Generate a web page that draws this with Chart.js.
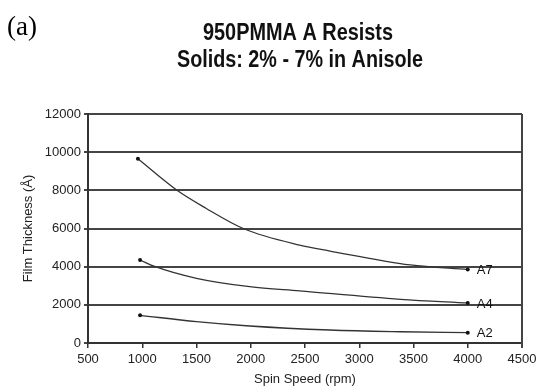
<!DOCTYPE html>
<html>
<head>
<meta charset="utf-8">
<script src="https://cdn.jsdelivr.net/npm/chart.js@4"></script>
<style>
	html, body { margin: 0; padding: 0; background: #fff; }
	#wrap { width: 536px; height: 387px; position: relative; }
</style>
</head>
<body>
<div id="wrap"><canvas id="chart" width="536" height="387"></canvas></div>
<script>
const speedA7 = [960, 1320, 1590, 1930, 2450, 2730, 3470, 4000];
const thickA7 = [9650, 8000, 7050, 6000, 5130, 4820, 4090, 3850];

const speedA4 = [980, 1120, 1500, 1990, 2450, 3380, 4000];
const thickA4 = [4350, 4000, 3390, 2950, 2730, 2290, 2100];

const speedA2 = [980, 1500, 1990, 2730, 3380, 4000];
const thickA2 = [1450, 1120, 890, 680, 590, 540];

const seriesNames = ["A7", "A4", "A2"];

const titleLines = ["950PMMA A Resists", "Solids: 2% - 7% in Anisole"];
const panelTag = "(a)";
const xTitle = "Spin Speed (rpm)";
const yTitle = "Film Thickness (\u00c5)";

// Turn two arrays into {x, y} points.
function toPoints(xs, ys) {
	return xs.map((x, i) => ({ x: x, y: ys[i] }));
}

// Dot only at the first and the last point of each curve.
function endDot(ctx) {
	const n = ctx.dataset.data.length;
	return (ctx.dataIndex === 0 || ctx.dataIndex === n - 1) ? 2 : 0;
}

function makeSet(name, xs, ys) {
	return {
		label: name,
		data: toPoints(xs, ys),
		showLine: true,
		borderColor: '#333',
		borderWidth: 1.3,
		backgroundColor: '#111',
		pointBackgroundColor: '#111',
		pointBorderWidth: 0,
		pointRadius: endDot,
		cubicInterpolationMode: 'monotone'
	};
}

// Title, panel tag, right frame line and the curve names.
const decor = {
	id: 'decor',
	afterDraw(chart) {
		const ctx = chart.ctx;
		const area = chart.chartArea;
		ctx.save();

		// Right frame line.
		ctx.strokeStyle = '#444';
		ctx.lineWidth = 2;
		ctx.beginPath();
		ctx.moveTo(area.right, area.top);
		ctx.lineTo(area.right, area.bottom + 5);
		ctx.stroke();

		// Panel tag.
		ctx.fillStyle = '#000';
		ctx.font = '27px "Liberation Serif", serif';
		ctx.textAlign = 'left';
		ctx.textBaseline = 'middle';
		ctx.fillText(panelTag, 7, 28);

		// Two line title, squeezed to look like a condensed face.
		ctx.fillStyle = '#111';
		ctx.font = 'bold 23px "Liberation Sans", Arial, sans-serif';
		ctx.textAlign = 'center';
		ctx.fillText(titleLines[0], 298, 34, 190);
		ctx.fillText(titleLines[1], 300, 61, 246);

		// Curve names next to the last points.
		ctx.font = '13px "Liberation Sans", Arial, sans-serif';
		ctx.textAlign = 'left';
		const xs = chart.scales.x;
		const ys = chart.scales.y;
		chart.data.datasets.forEach(function (set) {
			const last = set.data[set.data.length - 1];
			ctx.fillText(set.label, xs.getPixelForValue(last.x) + 9, ys.getPixelForValue(last.y) + 1);
		});
		ctx.restore();
	}
};

const tickFont = { family: '"Liberation Sans", Arial, sans-serif', size: 13 };
const plainNumber = value => String(value);

new Chart(document.querySelector('#chart'), {
	type: 'scatter',
	data: {
		datasets: [
			makeSet(seriesNames[0], speedA7, thickA7),
			makeSet(seriesNames[1], speedA4, thickA4),
			makeSet(seriesNames[2], speedA2, thickA2)
		]
	},
	options: {
		responsive: false,
		animation: false,
		layout: { padding: { left: 0, top: 114, right: 14, bottom: 0 } },
		plugins: {
			legend: { display: false },
			title: { display: false },
			tooltip: { enabled: false }
		},
		scales: {
			x: {
				type: 'linear',
				min: 500,
				max: 4500,
				ticks: { stepSize: 500, color: '#222', font: tickFont, padding: 4, maxRotation: 0, callback: plainNumber },
				grid: { drawOnChartArea: false, color: '#333', lineWidth: 1.5, tickLength: 5 },
				border: { display: true, color: '#333', width: 2 },
				title: {
					display: true, text: xTitle, color: '#222',
					font: { family: tickFont.family, size: 13, lineHeight: 1 },
					padding: { top: 0, bottom: 1 }
				},
				afterFit(scale) {
					scale.height = 44;
					scale.paddingLeft = 0;
					scale.paddingRight = 0;
				}
			},
			y: {
				min: 0,
				max: 12000,
				ticks: { stepSize: 2000, color: '#222', font: tickFont, padding: 3, callback: plainNumber },
				grid: { color: '#444', lineWidth: 2, tickLength: 4 },
				border: { display: true, color: '#333', width: 2 },
				title: {
					display: true, text: yTitle, color: '#222',
					font: { family: tickFont.family, size: 13, lineHeight: 1 },
					padding: { top: 22, bottom: 0 }
				},
				afterFit(scale) {
					scale.width = 88;
					scale.paddingTop = 0;
					scale.paddingBottom = 0;
				}
			}
		}
	},
	plugins: [decor]
});
</script>
</body>
</html>
